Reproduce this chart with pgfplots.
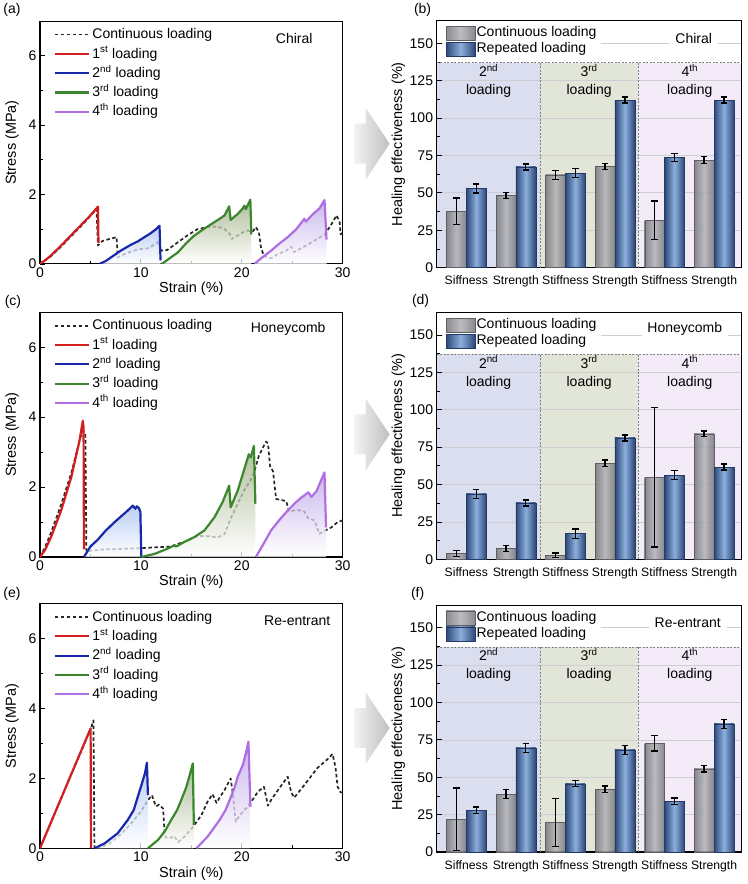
\documentclass[border=0pt]{standalone}
\usepackage{fontspec}
\setmainfont{Liberation Sans}
\usepackage{pgfplots}
\usepackage{pgfplotstable}
\pgfplotsset{compat=1.18}

\definecolor{cR}{RGB}{210,30,30}
\definecolor{cB}{RGB}{25,40,170}
\definecolor{cG}{RGB}{60,135,45}
\definecolor{cP}{RGB}{175,110,225}
\definecolor{fB}{RGB}{165,190,240}
\definecolor{fG}{RGB}{150,168,120}
\definecolor{fP}{RGB}{185,160,230}
\definecolor{bgA}{RGB}{218,222,238}
\definecolor{bgB}{RGB}{226,230,216}
\definecolor{bgC}{RGB}{243,235,247}
\definecolor{gD}{RGB}{118,118,124}
\definecolor{gL}{RGB}{178,178,182}
\definecolor{bD}{RGB}{45,72,122}
\definecolor{bL}{RGB}{140,175,220}
\definecolor{gridc}{RGB}{205,205,210}

\newcommand{\fs}{\fontsize{14}{14}\selectfont}

% ---- stress-strain curves ----
\pgfplotstableread{
x y
0 0
0.5 0.1
1 0.22
2 0.5
3 0.8
4 1.1
5 1.4
5.75 1.65
5.8 0.6
}\aR
\pgfplotstableread{
x y
0 0
1 0.2
2 0.47
3 0.77
4 1.07
5 1.38
5.6 1.58
5.75 0.53
6.2 0.66
6.9 0.72
7.6 0.77
7.7 0.19
8.5 0.3
9.7 0.42
10.7 0.45
11.6 0.6
11.75 0.66
12.0 0.38
12.6 0.4
13.7 0.63
14.6 0.82
15.6 1.0
16.6 1.06
17.6 1.08
18.3 1.0
18.8 0.87
19.0 0.72
19.6 0.82
20.4 0.96
21.1 0.94
21.4 1.06
21.7 0.91
21.9 0.48
22.2 0.22
22.9 0.16
23.6 0.29
24.4 0.38
24.9 0.5
25.2 0.34
26.2 0.5
27.2 0.67
28.2 0.85
28.8 1.1
29.4 1.4
29.7 1.2
29.8 0.85
30 0.9
}\aD
\pgfplotstableread{
x y
5.9 0
6.5 0.08
7.2 0.22
8.0 0.38
9.0 0.55
9.7 0.65
10.4 0.78
11.0 0.89
11.5 1.0
11.85 1.1
11.95 0.1
}\aB
\pgfplotstableread{
x y
12.08 0
12.8 0.15
13.7 0.34
14.5 0.6
15.3 0.82
16.2 1.0
17.0 1.15
17.8 1.3
18.3 1.4
18.75 1.66
18.9 1.27
19.6 1.44
20.1 1.6
20.25 1.68
20.4 1.58
20.85 1.85
20.95 0.85
}\aG
\pgfplotstableread{
x y
21.25 0
22.0 0.18
22.9 0.38
23.7 0.58
24.55 0.77
25.4 1.0
26.2 1.3
26.35 1.22
27.0 1.42
27.7 1.6
28.2 1.84
28.4 0.7
}\aP

\pgfplotstableread{
x y
0 0
0.5 0.2
1.1 0.57
2.1 1.33
3.1 2.28
3.9 3.3
4.25 3.9
4.32 3.7
4.36 0.22
}\cRt
\pgfplotstableread{
x y
0 0
0.5 0.28
1.1 0.7
2.1 1.5
3.1 2.4
3.9 3.3
4.2 3.6
4.5 3.55
4.6 0.15
5 0.18
6.4 0.22
8 0.23
9.7 0.25
11 0.27
13 0.3
13.7 0.38
14.5 0.45
15.6 0.6
16.5 0.6
17.6 0.56
18.3 0.66
18.9 1.1
19.6 1.52
20.3 1.95
20.8 2.15
21.2 2.4
21.7 2.9
22.4 3.3
22.6 3.25
22.8 2.6
23.1 2.45
23.4 1.66
24.1 1.62
24.4 1.6
24.7 1.3
25.5 1.35
26.2 1.3
26.6 1.1
27.2 1.05
27.7 0.66
28.2 0.75
28.9 0.85
29.5 1.0
30 1.05
}\cDt
\pgfplotstableread{
x y
4.36 0
5.0 0.3
5.74 0.5
6.5 0.75
7.4 1.0
8.7 1.33
9.2 1.47
9.45 1.38
9.6 1.45
9.8 1.4
9.95 1.3
10.05 0
}\cBt
\pgfplotstableread{
x y
10.05 0
11.35 0.09
12.5 0.22
13.3 0.33
13.5 0.3
14.3 0.43
15.3 0.57
16.3 0.76
17.3 1.14
18.1 1.57
18.75 2.04
18.9 1.42
19.6 1.9
20.3 2.56
20.7 2.94
20.9 2.85
21.2 3.18
21.35 1.52
}\cGt
\pgfplotstableread{
x y
21.4 0
22.2 0.4
22.9 0.76
23.7 1.05
24.55 1.33
25.3 1.55
25.9 1.7
26.6 1.85
26.9 1.72
27.4 1.88
27.8 2.15
28.2 2.42
28.35 0.85
}\cPt

\pgfplotstableread{
x y
0 0
5.02 3.43
5.05 0
}\eR
\pgfplotstableread{
x y
0 0
1 0.68
2 1.36
3 2.05
4 2.72
5.0 3.4
5.3 3.66
5.4 0
6 0.02
6.9 0.14
8 0.4
9 0.7
10 1.05
10.7 1.38
11.1 1.52
11.3 1.35
11.5 1.2
11.8 1.25
12.2 1.14
12.35 0.45
12.5 0.3
12.9 0.3
13.3 0.35
13.7 0.18
14.3 0.33
15 0.55
15.3 0.67
16 0.95
16.6 1.33
17.1 1.55
17.5 1.3
17.8 1.45
18.3 1.67
18.9 2.0
19.1 1.6
19.4 0.76
19.8 0.95
20.6 1.2
21.1 1.4
21.6 1.62
22.2 1.76
22.6 1.22
22.9 1.38
23.6 1.67
24.55 2.05
24.9 1.6
25.2 1.45
26.2 1.81
27.5 2.3
28.5 2.55
29 2.7
29.3 2.3
29.5 1.76
29.8 1.6
30 1.6
}\eD
\pgfplotstableread{
x y
5.4 0
6.4 0.14
7.7 0.43
8.7 0.81
9.3 1.1
9.7 1.48
10.1 1.85
10.4 2.14
10.6 2.45
10.7 1.52
}\eB
\pgfplotstableread{
x y
10.7 0
11.7 0.24
12.4 0.5
13.0 0.81
13.6 1.1
14.0 1.38
14.5 1.75
14.8 2.05
15.15 2.43
15.25 0.67
}\eG
\pgfplotstableread{
x y
15.5 0
16.6 0.33
17.8 0.81
18.4 1.1
18.8 1.38
19.3 1.75
19.6 2.05
20.1 2.38
20.4 2.71
20.66 3.05
20.86 1.19
}\eP

\pgfplotsset{
  every axis/.append style={
    scale only axis,
    axis line style={line width=1.1pt},
    tick style={line width=0.8pt, black},
    tick align=inside,
    tick label style={font=\fs},
    label style={font=\fontsize{14.5}{15}\selectfont},
    /pgf/number format/assume math mode=true,
  },
  ss/.style={
    width=303pt, height=245pt,
    xmin=0, xmax=30, ymin=0, ymax=7,
    xtick={0,10,20,30}, minor xtick={5,15,25},
    ytick={0,2,4,6}, minor ytick={1,3,5},
    xtick pos=bottom, ytick pos=left,
    major tick length=5pt, minor tick length=3pt,
    xlabel={Strain (\%)}, ylabel={Stress (MPa)},
    xlabel style={at={(axis description cs:0.5,0)}, anchor=center, yshift=-25pt},
    ylabel style={at={(axis description cs:-0.092,0.5)}, anchor=center},
    legend cell align=left,
    legend style={draw=none, fill=none, at={(axis description cs:0.045,0.985)},
      anchor=north west, font=\fs, row sep=0pt, inner sep=0pt,
      nodes={inner sep=2.5pt, text height=11.3pt, text depth=3pt}},
    legend image code/.code={\draw[##1] (0pt,0pt) -- (34pt,0pt);},
  },
  dline/.style={black!85, line width=1.7pt, line join=round, dash pattern=on 3.5pt off 2.5pt},
  cline/.style={#1, line width=2.2pt, line join=round},
  cfill/.style={draw=none, top color=#1, bottom color=white, fill opacity=0.75, forget plot},
  hb/.style={
    width=305pt, height=247pt,
    xmin=0.4, xmax=6.55, ymin=0, ymax=165,
    xtick={1,...,6},
    xticklabels={Siffness,Strength,Stiffness,Strength,Stiffness,Strength},
    x tick label style={font=\fontsize{12.2}{12}\selectfont, yshift=-5pt},
    x tick style={draw=none},
    ytick={0,25,...,150}, minor y tick num=1, ytick pos=left,
    major tick length=5pt, minor tick length=3pt,
    ymajorgrids, grid style={line width=0.7pt, gridc},
    ylabel={Healing effectiveness (\%)},
    ylabel style={at={(axis description cs:-0.125,0.5)}, anchor=center},
    set layers,
    legend cell align=left,
    legend style={draw=none, fill=white, at={(axis description cs:0.02,0.99)},
      anchor=north west, font=\fs, row sep=0pt, inner xsep=3pt, inner ysep=2pt,
      nodes={inner sep=1.5pt, text height=10pt, text depth=3pt}},
  },
  ebar/.style={
    error bars/y dir=both, error bars/y explicit,
    error bars/error bar style={black, line width=1.3pt, solid, fill opacity=1},
    error bars/error mark options={black, rotate=90, mark size=3.2pt, line width=1.3pt}},
  gbar/.style={ybar, bar width=0.4, bar shift=0, draw=gD!80!black, line width=0.3pt,
    left color=gD, right color=gD, middle color=gL, fill opacity=0.85, ebar},
  bbar/.style={ybar, bar width=0.4, bar shift=0, draw=bD!80!black, line width=0.3pt,
    left color=bD, right color=bD, middle color=bL, ebar},
}

% bars are placed at their own x (category -0.2 for continuous, +0.2 for repeated)
\newcommand{\gb}[3]{\addplot[gbar, forget plot] coordinates {(#1,#2) +- (0,#3)};}
\newcommand{\bb}[3]{\addplot[bbar, forget plot] coordinates {(#1,#2) +- (0,#3)};}
\newcommand{\regions}{%
  \begin{pgfonlayer}{axis background}
    \fill[bgA] (axis cs:0.4,0) rectangle (axis cs:2.49,137);
    \fill[bgB] (axis cs:2.49,0) rectangle (axis cs:4.47,137);
    \fill[bgC] (axis cs:4.47,0) rectangle (axis cs:6.55,137);
  \end{pgfonlayer}
  \draw[gray, dash pattern=on 2pt off 1.5pt, line width=0.6pt] (axis cs:0.4,137) -- (axis cs:6.55,137);
  \draw[gray, dash pattern=on 2pt off 1.5pt, line width=0.6pt] (axis cs:2.49,0) -- (axis cs:2.49,137);
  \draw[gray, dash pattern=on 2pt off 1.5pt, line width=0.6pt] (axis cs:4.47,0) -- (axis cs:4.47,137);
  \node[align=center, font=\fontsize{14}{18}\selectfont] at (axis cs:1.45,125) {2\textsuperscript{nd}\\loading};
  \node[align=center, font=\fontsize{14}{18}\selectfont] at (axis cs:3.48,125) {3\textsuperscript{rd}\\loading};
  \node[align=center, font=\fontsize{14}{18}\selectfont] at (axis cs:5.51,125) {4\textsuperscript{th}\\loading};
}
\newcommand{\firstbars}[4]{%
  \addplot[gbar, legend image code/.code={\shade[left color=gD, right color=gD, middle color=gL] (0pt,-7pt) rectangle (29pt,7pt);}]
    coordinates {(0.8,#1) +- (0,#2)};
  \addlegendentry{Continuous loading}
  \addplot[bbar, legend image code/.code={\shade[left color=bD, right color=bD, middle color=bL] (0pt,-7pt) rectangle (29pt,7pt);}]
    coordinates {(1.2,#3) +- (0,#4)};
  \addlegendentry{Repeated loading}
}
\newcommand{\lentries}{%
  \addlegendentry{Continuous loading}
  \addlegendentry{1\textsuperscript{st} loading}
  \addlegendentry{2\textsuperscript{nd} loading}
  \addlegendentry{3\textsuperscript{rd} loading}
  \addlegendentry{4\textsuperscript{th} loading}
}
% gray block arrow between the columns, apex at y=#1
\newcommand{\garrow}[1]{%
  \shade[left color=gray!10, right color=gray!50]
    (355pt,#1+20pt) -- (366pt,#1+20pt) -- (366pt,#1+36pt) -- (390pt,#1) --
    (366pt,#1-36pt) -- (366pt,#1-20pt) -- (355pt,#1-20pt) -- cycle;
}

\begin{document}
\begin{tikzpicture}

% arrows between columns
\garrow{-143pt}
\garrow{-434pt}
\garrow{-728pt}

% panel labels
\node[font=\fs] at (12pt,-9pt) {(a)};
\node[font=\fs] at (423pt,-9pt) {(b)};
\node[font=\fs] at (13pt,-301pt) {(c)};
\node[font=\fs] at (421pt,-300pt) {(d)};
\node[font=\fs] at (12pt,-594pt) {(e)};
\node[font=\fs] at (418pt,-594pt) {(f)};

% (a) Chiral
\begin{axis}[ss, height=243pt, at={(40pt,-263.3pt)}, anchor=south west]
\addplot[dline] table {\aD};
\addplot[cfill=fB] table {\aB} \closedcycle;
\addplot[cfill=fG] table {\aG} \closedcycle;
\addplot[cfill=fP] table {\aP} \closedcycle;
\addplot[cline=cR] table {\aR};
\addplot[cline=cB] table {\aB};
\addplot[cline=cG] table {\aG};
\addplot[cline=cP] table {\aP};
\lentries
\node[font=\fs] at (axis cs:25.2,6.49) {Chiral};
\end{axis}

% (b) Chiral bars
\begin{axis}[hb, at={(437pt,-267pt)}, anchor=south west]
\regions
\firstbars{37.6}{9}{52.9}{3}
\gb{1.8}{48.2}{2.2}  \bb{2.2}{67.3}{2}
\gb{2.8}{62}{3}      \bb{3.2}{63.1}{3}
\gb{3.8}{67.6}{2.2}  \bb{4.2}{112}{2}
\gb{4.8}{31.8}{12.8} \bb{5.2}{73.6}{2.8}
\gb{5.8}{71.8}{2.3}  \bb{6.2}{112}{2}
\node[font=\fs, fill=white, inner xsep=6pt] at (axis cs:5.59,153) {Chiral};
\end{axis}

% (c) Honeycomb
\begin{axis}[ss, at={(40pt,-556.7pt)}, anchor=south west]
\addplot[dline] table {\cDt};
\addplot[cfill=fB] table {\cBt} \closedcycle;
\addplot[cfill=fG] table {\cGt} \closedcycle;
\addplot[cfill=fP] table {\cPt} \closedcycle;
\addplot[cline=cR] table {\cRt};
\addplot[cline=cB] table {\cBt};
\addplot[cline=cG] table {\cGt};
\addplot[cline=cP] table {\cPt};
\lentries
\node[font=\fs] at (axis cs:24.6,6.53) {Honeycomb};
\end{axis}

% (d) Honeycomb bars
\begin{axis}[hb, at={(437pt,-559pt)}, anchor=south west]
\regions
\firstbars{3.9}{2.2}{43.7}{3}
\gb{1.8}{7.2}{2}    \bb{2.2}{37.7}{2}
\gb{2.8}{2.6}{1.6}  \bb{3.2}{17.2}{3.1}
\gb{3.8}{64.3}{2.2} \bb{4.2}{81.2}{2}
\gb{4.8}{55}{46.7}  \bb{5.2}{56.3}{3}
\gb{5.8}{83.9}{2}   \bb{6.2}{61.7}{2}
\node[font=\fs, fill=white, inner xsep=6pt] at (axis cs:5.41,154) {Honeycomb};
\end{axis}

% (e) Re-entrant
\begin{axis}[ss, at={(40pt,-848.3pt)}, anchor=south west]
\addplot[dline] table {\eD};
\addplot[cfill=fB] table {\eB} \closedcycle;
\addplot[cfill=fG] table {\eG} \closedcycle;
\addplot[cfill=fP] table {\eP} \closedcycle;
\addplot[cline=cR] table {\eR};
\addplot[cline=cB] table {\eB};
\addplot[cline=cG] table {\eG};
\addplot[cline=cP] table {\eP};
\lentries
\node[font=\fs] at (axis cs:25.5,6.52) {Re-entrant};
\end{axis}

% (f) Re-entrant bars
\begin{axis}[hb, at={(437pt,-852pt)}, anchor=south west]
\regions
\firstbars{21.9}{21}{27.9}{2.3}
\gb{1.8}{38.8}{3}   \bb{2.2}{69.7}{3}
\gb{2.8}{19.9}{16}  \bb{3.2}{45.7}{2}
\gb{3.8}{41.9}{2.2} \bb{4.2}{68.3}{3}
\gb{4.8}{72.6}{5.1} \bb{5.2}{34.1}{2.1}
\gb{5.8}{55.7}{2.2} \bb{6.2}{85.7}{3}
\node[font=\fs, fill=white, inner xsep=6pt] at (axis cs:5.47,153.5) {Re-entrant};
\end{axis}

\path (0pt,0pt) rectangle (748pt,-884pt);
\end{tikzpicture}
\end{document}
